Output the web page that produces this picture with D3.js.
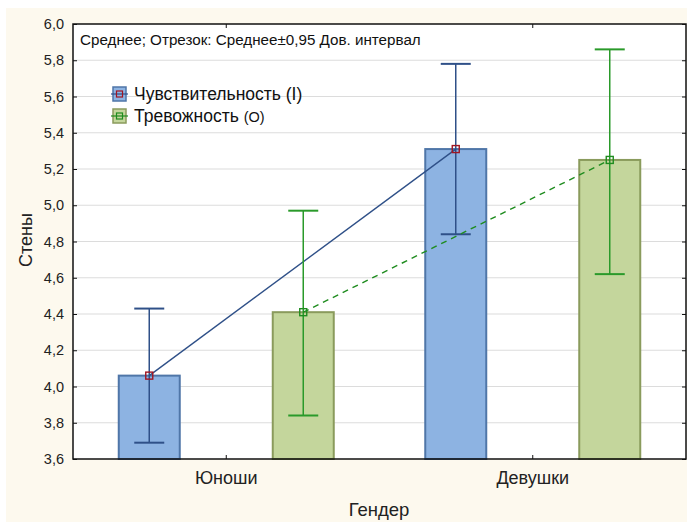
<!DOCTYPE html>
<html lang="ru">
<head>
<meta charset="utf-8">
<title>Стены по гендеру</title>
<script src="https://cdnjs.cloudflare.com/ajax/libs/d3/7.8.5/d3.min.js"></script>
<style>
  html, body { margin: 0; padding: 0; background: #fff; }
  svg { display: block; font-family: "Liberation Sans", Arial, sans-serif; }
</style>
</head>
<body>
<div id="chart"></div>
<script>
// data
const groups = ['Юноши', 'Девушки'];
const seriesNames = ['Чувствительность', 'Тревожность'];
const seriesTags = ['(I)', '(O)'];
const sensMean = [4.06, 5.31];
const sensLow = [3.69, 4.84];
const sensHigh = [4.43, 5.78];
const anxMean = [4.41, 5.25];
const anxLow = [3.84, 4.62];
const anxHigh = [4.97, 5.86];
const yTicks = [3.6, 3.8, 4.0, 4.2, 4.4, 4.6, 4.8, 5.0, 5.2, 5.4, 5.6, 5.8, 6.0];

const W = 687, H = 522;
const mLeft = 73, mRight = 686, mTop = 24, mBottom = 459;
const barW = 61;

const svg = d3.select('#chart').append('svg')
  .attr('width', W).attr('height', H);

// cream background
svg.append('rect').attr('x', 6).attr('y', 8).attr('width', W - 6).attr('height', H - 8)
  .attr('fill', '#fdf9ee');
svg.append('rect').attr('x', mLeft).attr('y', mTop).attr('width', mRight - mLeft).attr('height', mBottom - mTop)
  .attr('fill', '#fff');

const y = d3.scaleLinear().domain([3.6, 6.0]).range([mBottom, mTop]);
const x = d3.scaleBand().domain(groups).range([mLeft, mRight]);
const sub = d3.scalePoint().domain([0, 1]).range([-77, 77]);

// gridlines
svg.append('g').selectAll('line').data(yTicks.slice(1, -1)).enter().append('line')
  .attr('x1', mLeft).attr('x2', mRight)
  .attr('y1', d => y(d)).attr('y2', d => y(d))
  .attr('stroke', '#dcdcdc').attr('stroke-width', 1.2);

const series = [
  { mean: sensMean, low: sensLow, high: sensHigh, fill: '#8db3e2', edge: '#4f76a8', line: '#2f5088', err: '#2f5088', mark: '#a01622', dash: null },
  { mean: anxMean, low: anxLow, high: anxHigh, fill: '#c4d69c', edge: '#8a9b5c', line: '#1f8c1f', err: '#2a9a2a', mark: '#1f8c1f', dash: '6,5' }
];

const cx = (g, s) => x(g) + x.bandwidth() / 2 + sub(s);

series.forEach((s, si) => {
  // bars
  svg.append('g').selectAll('rect').data(groups).enter().append('rect')
    .attr('x', g => cx(g, si) - barW / 2)
    .attr('y', (g, i) => y(s.mean[i]))
    .attr('width', barW)
    .attr('height', (g, i) => mBottom - y(s.mean[i]))
    .attr('fill', s.fill).attr('stroke', s.edge).attr('stroke-width', 2);
});

series.forEach((s, si) => {
  // error bars
  const eg = svg.append('g').attr('stroke', s.err).attr('stroke-width', 1.5);
  groups.forEach((g, i) => {
    const c = cx(g, si);
    eg.append('line').attr('x1', c).attr('x2', c).attr('y1', y(s.low[i])).attr('y2', y(s.high[i]));
    eg.append('line').attr('x1', c - 15).attr('x2', c + 15).attr('y1', y(s.low[i])).attr('y2', y(s.low[i])).attr('stroke-width', 2);
    eg.append('line').attr('x1', c - 15).attr('x2', c + 15).attr('y1', y(s.high[i])).attr('y2', y(s.high[i])).attr('stroke-width', 2);
  });
  // connecting line
  const line = d3.line().x((d, i) => cx(groups[i], si)).y(d => y(d));
  svg.append('path').datum(s.mean).attr('d', line)
    .attr('fill', 'none').attr('stroke', s.line).attr('stroke-width', 1.4)
    .attr('stroke-dasharray', s.dash);
  // markers
  svg.append('g').selectAll('rect').data(s.mean).enter().append('rect')
    .attr('x', (d, i) => cx(groups[i], si) - 3.5)
    .attr('y', d => y(d) - 3.5)
    .attr('width', 7).attr('height', 7)
    .attr('fill', 'none').attr('stroke', s.mark).attr('stroke-width', 1.4);
});

// frame
svg.append('rect').attr('x', mLeft).attr('y', mTop).attr('width', mRight - mLeft).attr('height', mBottom - mTop)
  .attr('fill', 'none').attr('stroke', '#111').attr('stroke-width', 1.5);

// axes with inward ticks
const yAxis = svg.append('g').attr('transform', `translate(${mLeft},0)`)
  .call(d3.axisLeft(y).tickValues(yTicks).tickSizeInner(-4).tickSizeOuter(0).tickPadding(9)
    .tickFormat(d => d3.format('.1f')(d).replace('.', ',')));
yAxis.select('.domain').remove();
yAxis.selectAll('text').attr('font-size', 14.5).attr('fill', '#222');
yAxis.selectAll('line').attr('stroke', '#111');

svg.append('g').attr('transform', `translate(${mRight},0)`)
  .call(d3.axisRight(y).tickValues(yTicks).tickSizeInner(-4).tickSizeOuter(0).tickFormat(''))
  .call(g => g.select('.domain').remove())
  .selectAll('line').attr('stroke', '#111');

const xAxis = svg.append('g').attr('transform', `translate(0,${mBottom})`)
  .call(d3.axisBottom(x).tickSizeInner(-4).tickSizeOuter(0).tickPadding(12));
xAxis.select('.domain').remove();
xAxis.selectAll('text').attr('font-size', 18).attr('fill', '#222');
xAxis.selectAll('line').attr('stroke', '#111');

svg.append('g').attr('transform', `translate(0,${mTop})`)
  .call(d3.axisTop(x).tickSizeInner(-4).tickSizeOuter(0).tickFormat(''))
  .call(g => g.select('.domain').remove())
  .selectAll('line').attr('stroke', '#111');

// axis titles
svg.append('text').attr('transform', 'translate(32,240) rotate(-90)')
  .attr('text-anchor', 'middle').attr('font-size', 18).attr('fill', '#222').text('Стены');
svg.append('text').attr('x', 379).attr('y', 516)
  .attr('text-anchor', 'middle').attr('font-size', 18.5).attr('fill', '#222').text('Гендер');

// caption
svg.append('text').attr('x', 80).attr('y', 45).attr('font-size', 15.2).attr('fill', '#111')
  .text('Среднее; Отрезок: Среднее±0,95 Дов. интервал');

// legend
const leg = svg.append('g').attr('transform', 'translate(113,94)');
series.forEach((s, si) => {
  const g = leg.append('g').attr('transform', `translate(0,${si * 22})`);
  g.append('rect').attr('x', 0).attr('y', -7).attr('width', 13).attr('height', 14)
    .attr('fill', s.fill).attr('stroke', s.edge).attr('stroke-width', 1.5);
  g.append('line').attr('x1', -2).attr('x2', 15).attr('y1', 0).attr('y2', 0)
    .attr('stroke', s.line).attr('stroke-width', 1.2);
  g.append('rect').attr('x', 3.5).attr('y', -3).attr('width', 6).attr('height', 6)
    .attr('fill', 'none').attr('stroke', s.mark).attr('stroke-width', 1.2);
  const t = g.append('text').attr('x', 21).attr('y', 6).attr('font-size', 17.5).attr('fill', '#111');
  t.append('tspan').text(seriesNames[si] + ' ');
  t.append('tspan').attr('font-size', si === 0 ? 17.5 : 14.5).text(seriesTags[si]);
});
</script>
</body>
</html>
